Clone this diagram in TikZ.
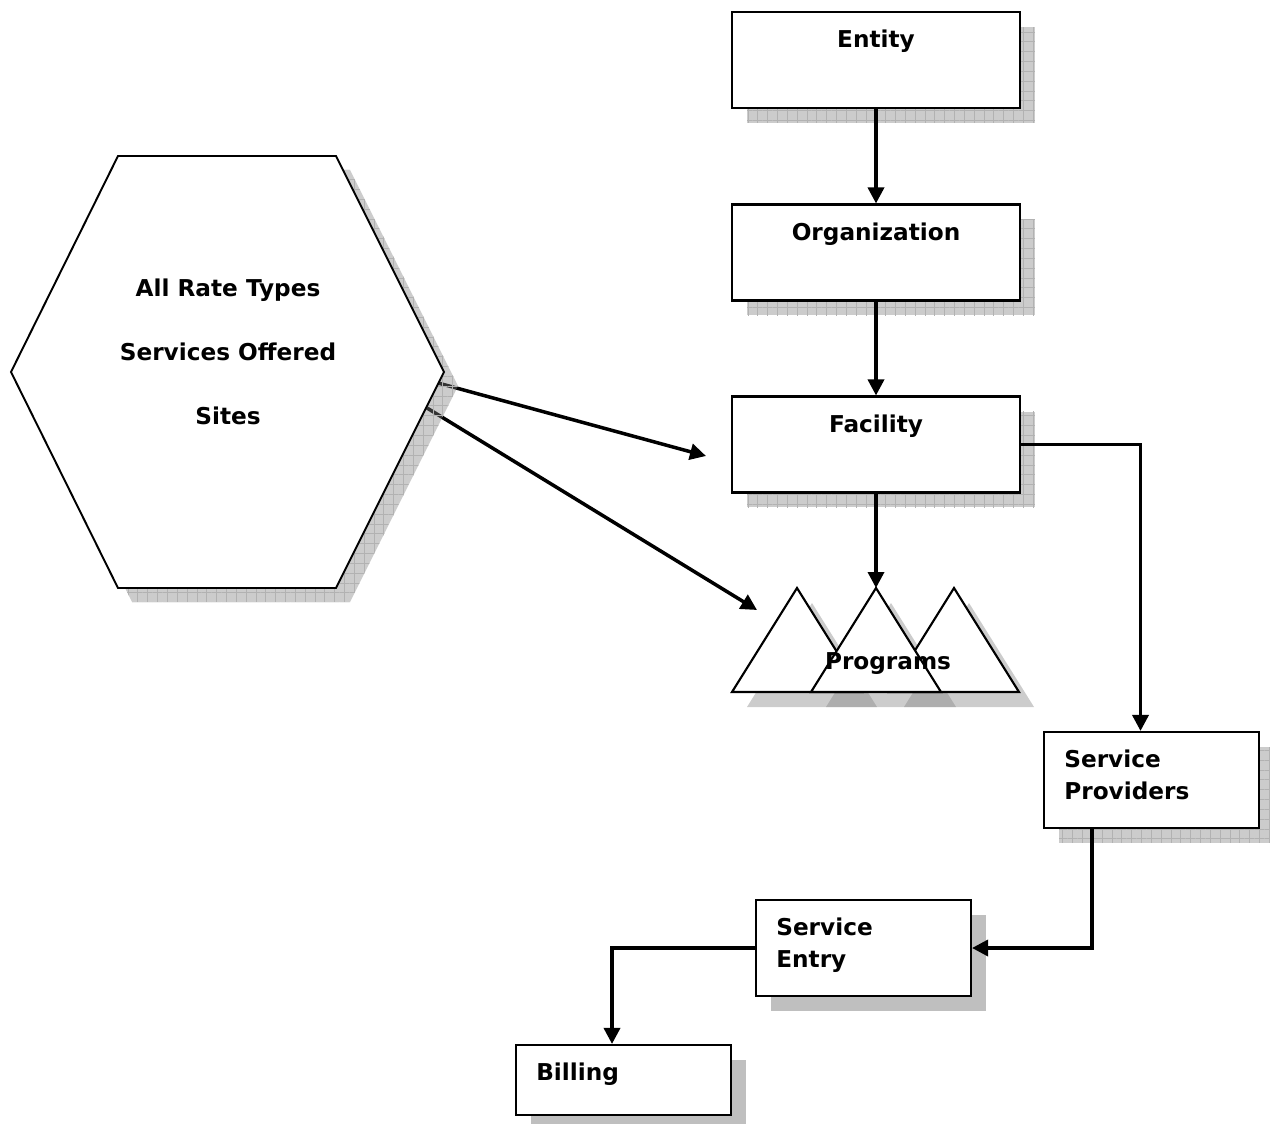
\documentclass[tikz,border=0pt]{standalone}
\usepackage{fontspec}
\setmainfont{DejaVu Sans}
\usetikzlibrary{arrows.meta, shadows, patterns.meta, calc}
\newcommand\boxfont{\bfseries\fontsize{13.2}{18.1}\selectfont}
\newcommand\hexfont{\bfseries\fontsize{13.2}{36.3}\selectfont}
\tikzset{
  gridlines/.style={pattern={Hatch[distance=5.6pt, angle=0, line width=0.3pt]}, pattern color=gray!60},
  gridshade/.style={preaction={fill=gray, fill opacity=0.4}, gridlines},
  boxshadow/.style={general shadow={fill=gray!40, shadow xshift=0.3cm, shadow yshift=-0.3cm},
    general shadow={gridlines, shadow xshift=0.3cm, shadow yshift=-0.3cm}},
  flatshadow/.style={general shadow={fill=gray!50, shadow xshift=0.3cm, shadow yshift=-0.3cm}},
  box/.style={draw, fill=white, line width=1.2pt, minimum width=5.76cm, minimum height=1.92cm, inner sep=0pt},
  smallbox/.style={box, minimum width=4.3cm},
  toptext/.style={anchor=north, inner sep=0pt, yshift=-0.38cm, font=\boxfont},
  lefttext/.style={anchor=north west, inner sep=0pt, xshift=0.42cm, yshift=-0.38cm, align=left, font=\boxfont},
  hexline/.style={draw, fill=white, line width=1.1pt, line join=miter},
  trishade/.style={fill=gray, fill opacity=0.4},
  tri/.style={draw, fill=white, line width=1.2pt},
  conn/.style={line width=2pt, -{Triangle[length=0.32cm, width=0.32cm]}}
}
\begin{document}
\begin{tikzpicture}[x=0.02cm, y=-0.02cm]
  \useasboundingbox (0,0) rectangle (1270,1124);
  % arrows leaving the hexagon run under its shadow
  \coordinate (hexA) at (438,383);
  \coordinate (hexB) at (427,408);
  \coordinate (facin) at (706,456);
  \coordinate (progin) at (757,610);
  \draw[conn] (hexA) -- (facin);
  \draw[conn] (hexB) -- (progin);
  % hexagon
  \path[gridshade, shift={(14,14)}] (118,156) -- (336,156) -- (444,372) -- (336,588) -- (118,588) -- (11,372) -- cycle;
  \draw[hexline] (118,156) -- (336,156) -- (444,372) -- (336,588) -- (118,588) -- (11,372) -- cycle;
  \node[font=\hexfont, align=center] (hexlabel) at (228,352) {All Rate Types\\Services Offered\\Sites};
  % programs
  \foreach \ax in {797,876,954}
    \fill[trishade, shift={(15,15)}] (\ax,588) -- (\ax+65,692) -- (\ax-65,692) -- cycle;
  \foreach \ax in {797,954,876}
    \draw[tri] (\ax,588) -- (\ax+65,692) -- (\ax-65,692) -- cycle;
  \coordinate (progtop) at (876,588);
  \node[font=\boxfont] (proglabel) at (888,664) {Programs};
  % boxes
  \node[box, boxshadow, label={[toptext]north:Entity}] (entity) at (876,60) {};
  \node[box, boxshadow, label={[toptext]north:Organization}] (org) at (876,252.5) {};
  \node[box, boxshadow, label={[toptext]north:Facility}] (facility) at (876,444.5) {};
  \node[smallbox, boxshadow, label={[lefttext]north west:Service\\Providers}] (provider) at (1151.5,780) {};
  \node[smallbox, flatshadow, label={[lefttext]north west:Service\\Entry}] (entry) at (863.5,948) {};
  \node[smallbox, flatshadow, minimum height=1.4cm, label={[lefttext]north west:Billing}] (billing) at (623.5,1080) {};
  % connectors
  \draw[conn] (entity) -- (org);
  \draw[conn] (org) -- (facility);
  \draw[conn] (facility.south) -- (progtop);
  \draw[conn] (facility.east) -| ($(provider.north)+(-11,0)$);
  \draw[conn] ($(provider.south)+(-59.5,0)$) |- (entry.east);
  \draw[conn] (entry.west) -| ($(billing.north)+(-11.5,0)$);
\end{tikzpicture}
\end{document}
